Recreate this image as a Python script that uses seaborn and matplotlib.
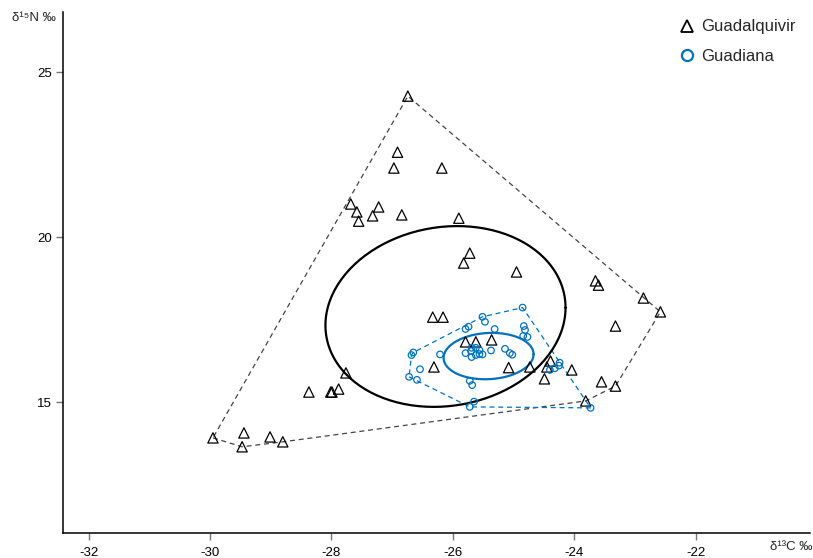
import numpy as np
import pandas as pd
import matplotlib
matplotlib.use("Agg")
import matplotlib.pyplot as plt
import seaborn as sns
from matplotlib.lines import Line2D

# ── Data (d13C, d15N) ─────────────────────────────────────────────────────────
guadalquivir_c = [-26.74, -26.91, -26.97, -26.18, -27.68, -27.58, -27.55, -27.22,
                  -27.32, -26.84, -25.90, -25.72, -25.82, -24.95, -23.65, -23.60,
                  -22.86, -22.58, -23.32, -26.33, -26.16, -25.79, -25.62, -25.36,
                  -26.31, -25.08, -24.73, -24.39, -24.45, -24.04, -24.49, -23.55,
                  -23.32, -23.81, -27.76, -27.88, -28.01, -27.99, -28.37, -29.95,
                  -29.44, -29.01, -28.80, -29.47]
guadalquivir_n = [24.28, 22.58, 22.10, 22.10, 21.01, 20.77, 20.49, 20.92,
                  20.65, 20.68, 20.58, 19.52, 19.22, 18.95, 18.68, 18.55,
                  18.16, 17.74, 17.31, 17.58, 17.58, 16.83, 16.83, 16.89,
                  16.07, 16.05, 16.07, 16.25, 16.07, 15.98, 15.71, 15.62,
                  15.49, 15.04, 15.89, 15.40, 15.31, 15.31, 15.31, 13.92,
                  14.07, 13.95, 13.80, 13.65]

guadiana_c = [-24.85, -25.51, -25.47, -25.74, -25.79, -25.31, -24.83, -24.81,
              -24.84, -24.77, -26.65, -26.68, -26.21, -25.79, -25.70, -25.69,
              -25.62, -25.56, -25.69, -25.62, -25.56, -25.51, -25.37, -25.14,
              -25.06, -25.02, -26.54, -26.72, -26.59, -25.72, -25.68, -25.65,
              -25.72, -24.24, -24.25, -24.32, -24.40, -23.73]
guadiana_n = [17.87, 17.59, 17.44, 17.29, 17.22, 17.22, 17.31, 17.19,
              17.01, 16.98, 16.51, 16.43, 16.45, 16.49, 16.55, 16.65,
              16.65, 16.58, 16.37, 16.43, 16.46, 16.45, 16.57, 16.62,
              16.49, 16.44, 16.00, 15.77, 15.68, 15.65, 15.52, 15.02,
              14.86, 16.20, 16.11, 16.03, 15.98, 14.83]

# standard ellipses: centre and shape matrix (sxx, syy, sxy)
ellipse_guadalquivir = [-26.12, 17.60, 3.91, 7.51, 0.53]
ellipse_guadiana = [-25.41, 16.40, 0.549, 0.494, 0.04]

x_ticks = [-32, -30, -28, -26, -24, -22]
y_ticks = [15, 20, 25]

BLUE = "#0072BD"


def convex_hull(xs, ys):
    pts = sorted(set(zip(xs, ys)))

    def cross(o, a, b):
        return (a[0] - o[0]) * (b[1] - o[1]) - (a[1] - o[1]) * (b[0] - o[0])

    lower, upper = [], []
    for p in pts:
        while len(lower) >= 2 and cross(lower[-2], lower[-1], p) <= 0:
            lower.pop()
        lower.append(p)
    for p in reversed(pts):
        while len(upper) >= 2 and cross(upper[-2], upper[-1], p) <= 0:
            upper.pop()
        upper.append(p)
    hull = lower[:-1] + upper[:-1]
    hull.append(hull[0])
    return np.array(hull)


def ellipse_points(params, n=200):
    cx, cy, sxx, syy, sxy = params
    L = np.linalg.cholesky(np.array([[sxx, sxy], [sxy, syy]]))
    t = np.linspace(0, 2 * np.pi, n)
    pts = L @ np.vstack([np.cos(t), np.sin(t)])
    return cx + pts[0], cy + pts[1]


sns.set_style("ticks")
plt.rcParams["font.family"] = ["Liberation Sans", "DejaVu Sans"]

fig = plt.figure(figsize=(8.13, 5.58), dpi=100)
ax = fig.add_axes([0.0775, 0.045, 0.9185, 0.9335])

# hulls
hq = convex_hull(guadalquivir_c, guadalquivir_n)
ax.plot(hq[:, 0], hq[:, 1], color="#444444", lw=0.9, ls=(0, (4, 3)), zorder=1)
hd = convex_hull(guadiana_c, guadiana_n)
ax.plot(hd[:, 0], hd[:, 1], color=BLUE, lw=0.9, ls=(0, (4, 3)), zorder=1)

# ellipses
ex, ey = ellipse_points(ellipse_guadalquivir)
ax.plot(ex, ey, color="black", lw=1.6, zorder=2)
ex, ey = ellipse_points(ellipse_guadiana)
ax.plot(ex, ey, color=BLUE, lw=1.6, zorder=2)

df_q = pd.DataFrame({"c": guadalquivir_c, "n": guadalquivir_n})
df_d = pd.DataFrame({"c": guadiana_c, "n": guadiana_n})
sns.scatterplot(data=df_q, x="c", y="n", marker="^", s=55, fc="none",
                ec="black", linewidth=0.9, ax=ax, zorder=3)
sns.scatterplot(data=df_d, x="c", y="n", marker="o", s=22, fc="none",
                ec=BLUE, linewidth=0.9, ax=ax, zorder=4)

ax.set_xlim(-32.42, -20.12)
ax.set_ylim(11.04, 26.83)
ax.set_xticks(x_ticks)
ax.set_yticks(y_ticks)
ax.set_xticklabels([str(v) for v in x_ticks])
ax.set_xlabel("")
ax.set_ylabel("")
ax.tick_params(axis="both", length=5, width=1, color="#777777",
               labelsize=9.5, labelcolor="black")
ax.tick_params(axis="x", pad=5)
ax.tick_params(axis="y", pad=3)
sns.despine(ax=ax)
for sp in ("left", "bottom"):
    ax.spines[sp].set_linewidth(1.1)
    ax.spines[sp].set_color("black")

fig.text(12 / 813, 1 - 18 / 558, "δ¹⁵N ‰", fontsize=9.5, ha="left", va="center")
fig.text(812 / 813, 1 - 547 / 558, "δ¹³C ‰", fontsize=9.5, ha="right", va="center")

handles = [
    Line2D([], [], marker="^", ls="none", mfc="none", mec="black", mew=1.3, ms=9),
    Line2D([], [], marker="o", ls="none", mfc="none", mec=BLUE, mew=1.6, ms=8),
]
ax.legend(handles, ["Guadalquivir", "Guadiana"], loc="upper right",
          bbox_to_anchor=(796 / 813, 1 - 19.5 / 558),
          bbox_transform=fig.transFigure, frameon=False, fontsize=12,
          labelspacing=0.86, handletextpad=0.35, handlelength=1.1,
          borderaxespad=0, borderpad=0)

fig.savefig("out.png", dpi=100)
